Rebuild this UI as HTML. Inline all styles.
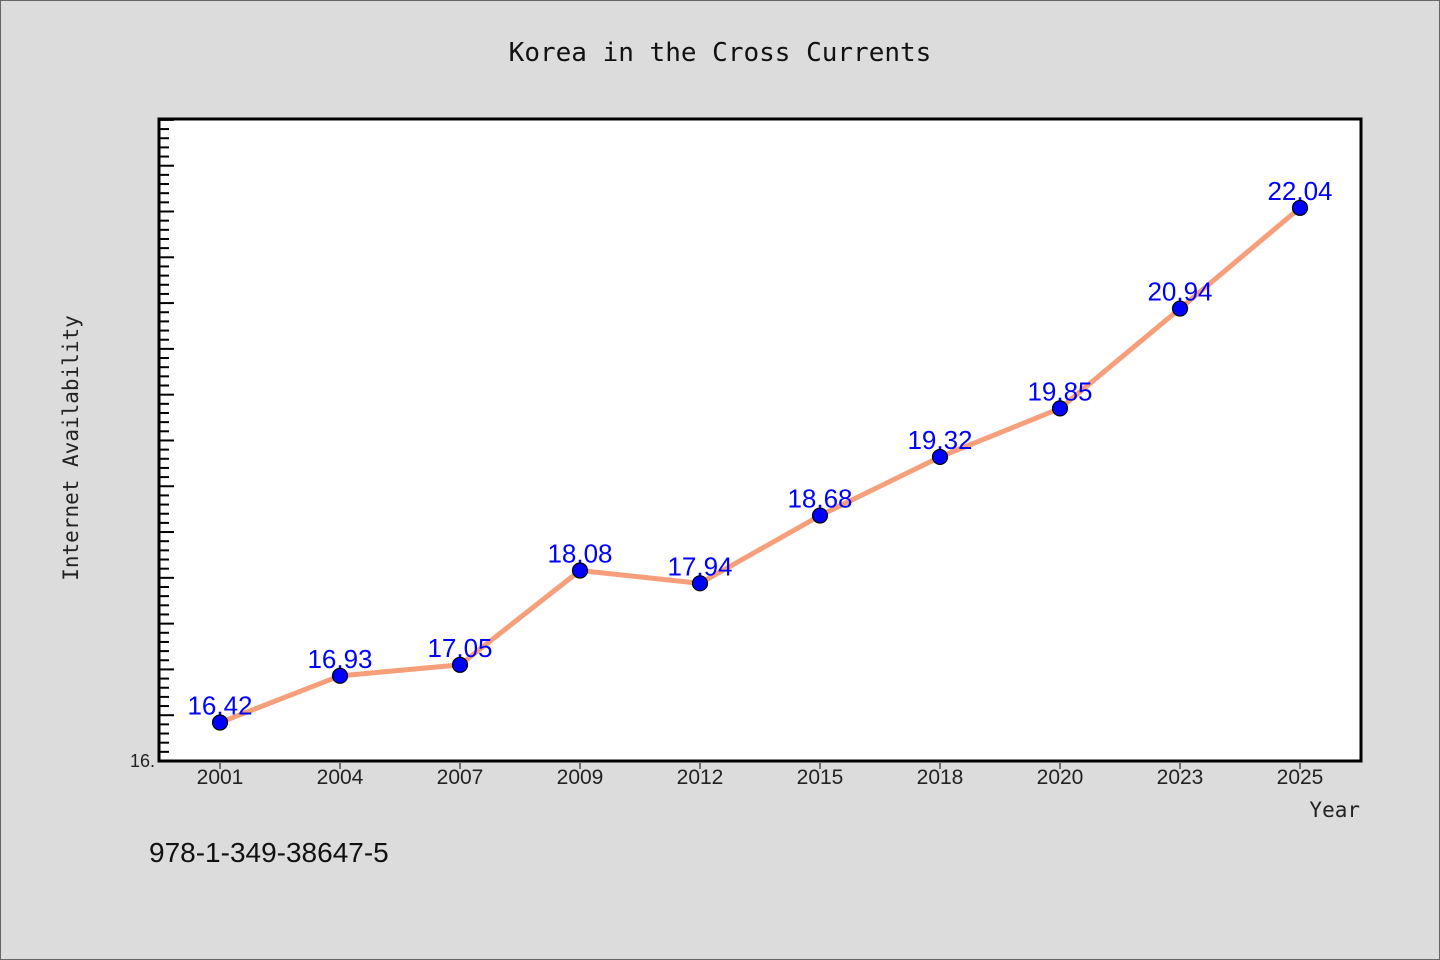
<!DOCTYPE html>
<html><head><meta charset="utf-8"><style>
html,body{margin:0;padding:0;}
body{width:1440px;height:960px;background:#dcdcdc;overflow:hidden;}
svg{display:block;}
</style></head><body>
<svg width="1440" height="960" id="chart">
<rect x="0.5" y="0.5" width="1439" height="959" fill="#dcdcdc" stroke="#666"/>
<text x="720" y="61" text-anchor="middle" font-family="'DejaVu Sans Mono','Liberation Mono',monospace" font-size="26" fill="#111">Korea in the Cross Currents</text>
<rect x="159" y="119" width="1202" height="642" fill="#fff"/>
<g id="yticks"></g>
<g id="xticks"></g>
<path id="line" fill="none" stroke="#f79f7a" stroke-width="5" stroke-linejoin="round"/>
<g id="points"></g>
<rect x="159" y="119" width="1202" height="642" fill="none" stroke="#000" stroke-width="3"/>
<text x="155" y="767" text-anchor="end" font-family="'Liberation Sans',sans-serif" font-size="18" fill="#222">16.</text>
<text x="78" y="448" text-anchor="middle" transform="rotate(-90 78 448)" font-family="'DejaVu Sans Mono','Liberation Mono',monospace" font-size="21" fill="#222">Internet Availability</text>
<text x="1360" y="817" text-anchor="end" font-family="'DejaVu Sans Mono','Liberation Mono',monospace" font-size="21" fill="#222">Year</text>
<text x="149" y="862" font-family="'Liberation Sans',sans-serif" font-size="28" fill="#111">978-1-349-38647-5</text>
</svg>
<script>
const categories=["2001","2004","2007","2009","2012","2015","2018","2020","2023","2025"];
const values=[16.42,16.93,17.05,18.08,17.94,18.68,19.32,19.85,20.94,22.04];
const valueLabels=["16.42","16.93","17.05","18.08","17.94","18.68","19.32","19.85","20.94","22.04"];
const yMin=16, yMax=23.01;
const NS="http://www.w3.org/2000/svg";
const L=159,R=1361,T=119,B=761;
function xs(i){return 220+i*(1300-220)/(categories.length-1);}
function ys(v){return B-(v-yMin)/(yMax-yMin)*(B-T);}
function mk(tag,attrs,parent){const e=document.createElementNS(NS,tag);for(const k in attrs)e.setAttribute(k,attrs[k]);parent.appendChild(e);return e;}
const yt=document.getElementById('yticks');
for(let k=1;;k++){const v=yMin+k*0.1;if(v>yMax)break;const y=ys(v);const major=(k%5===0);
const t=mk('line',{x1:L,x2:L+(major?15:10),y1:y,y2:y,stroke:'#000','stroke-width':2},yt);

}
const xt=document.getElementById('xticks');
categories.forEach((c,i)=>{const x=xs(i);
const t=mk('line',{x1:x,x2:x,y1:B+2,y2:B+8,stroke:'#000','stroke-width':1},xt);


const tx=mk('text',{x:x,y:B+23,'text-anchor':'middle','font-family':"'Liberation Sans',sans-serif",'font-size':21,fill:'#222'},xt);
tx.textContent=c;

});
document.getElementById('line').setAttribute('d',values.map((v,i)=>(i?'L':'M')+xs(i)+','+ys(v)).join(' '));
const pg=document.getElementById('points');
values.forEach((v,i)=>{const x=xs(i),y=ys(v);
const c=mk('circle',{cx:x,cy:y,r:7.5,fill:'#0000ff',stroke:'#000','stroke-width':1.2},pg);


const t=mk('text',{x:x,y:y-8,'text-anchor':'middle','font-family':"'Liberation Sans',sans-serif",'font-size':26,fill:'#0000ff'},pg);
t.textContent=valueLabels[i];

});
</script>
</body></html>
